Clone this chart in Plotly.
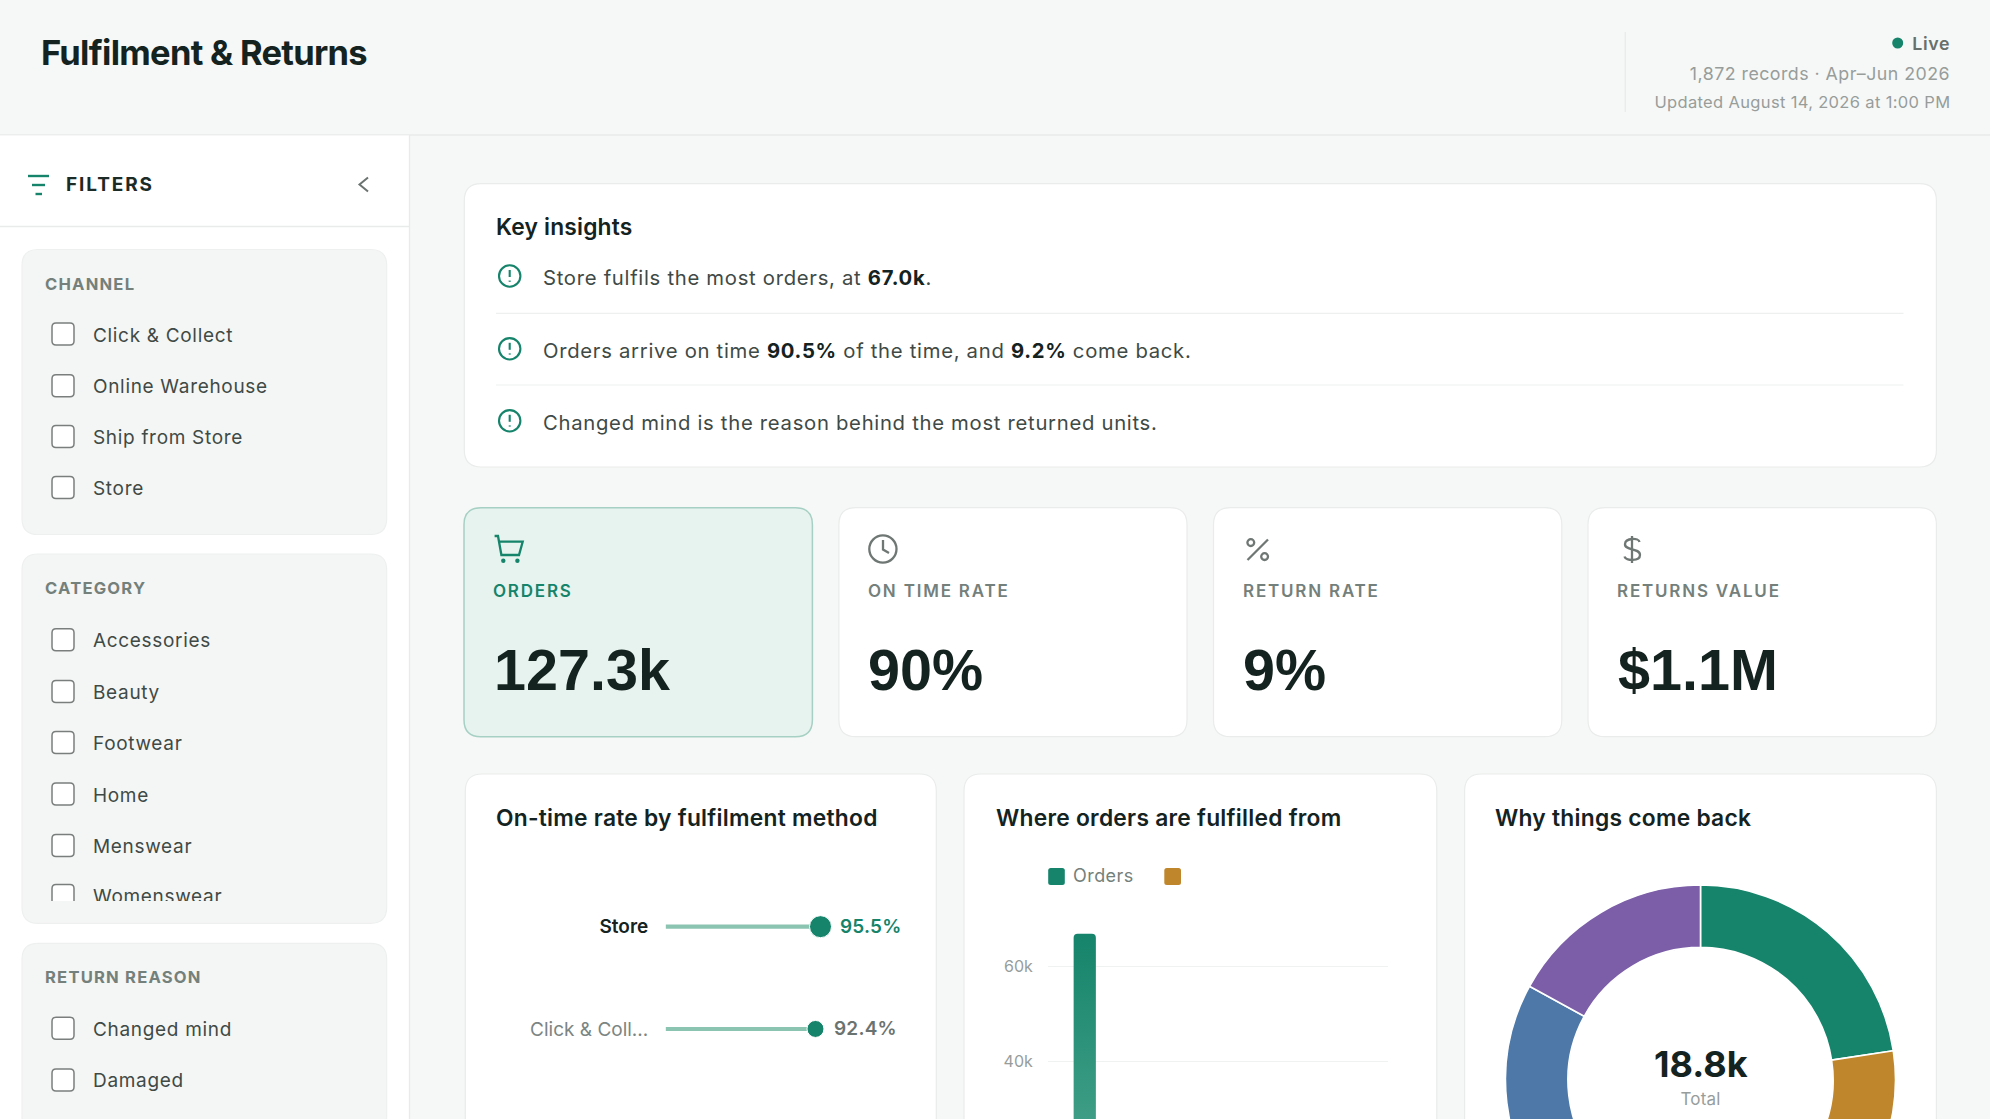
import json, re
import plotly.graph_objects as go

# ---------- data ----------
TITLE = "Fulfilment & Returns"
HEADER_LINES = ["1,872 records · Apr–Jun 2026", "Updated August 14, 2026 at 1:00 PM"]
CHANNEL_FILTERS = ["Click & Collect", "Online Warehouse", "Ship from Store", "Store"]
CATEGORY_FILTERS = ["Accessories", "Beauty", "Footwear", "Home", "Menswear"]
REASON_FILTERS = ["Changed mind", "Damaged"]
INSIGHT_LINES = [
    "Store fulfils the most orders, at [67.0k].",
    "Orders arrive on time [90.5%] of the time, and [9.2%] come back.",
    "Changed mind is the reason behind the most returned units.",
]
KPI_LABELS = ["ORDERS", "ON TIME RATE", "RETURN RATE", "RETURNS VALUE"]
KPI_VALUES = ["127.3k", "90%", "9%", "$1.1M"]

ONTIME_METHODS = ["Store", "Click & Coll..."]
ONTIME_RATES = [95.5, 92.4]

FULFIL_CATS = ["Store", "Ship from Store", "Online Warehouse", "Click & Collect"]
FULFIL_ORDERS = [67.0, 26.5, 20.4, 13.4]
FULFIL_OTHER = [6.1, 2.9, 2.4, 1.3]
FULFIL_TICKS = [40, 60]
FULFIL_TICK_TEXT = ["40k", "60k"]

REASONS = ["Changed mind", "Damaged", "Late delivery", "Wrong size", "Not as described"]
REASON_UNITS = [4.25, 3.9, 3.75, 3.7, 3.2]
REASON_TOTAL = "18.8k"

# ---------- palette ----------
GREEN = "#15846a"; GOLD = "#bf862c"; BLUE = "#4d78a8"; PURPLE = "#7b5ea7"; RED = "#b5574d"
INK = "#14231f"; BODY = "#3f4a46"; MUTED = "#74807b"; FAINT = "#979d9b"
BG = "#f6f8f7"; LINE = "#e8ebea"; PANEL = "#f4f6f5"
W, H = 1990, 1500
FONT = "Inter"

shapes, annos, spacing = [], [], {}

def rrect_path(x0, y0, x1, y1, r):
    return (f"M {x0+r} {y0} L {x1-r} {y0} Q {x1} {y0} {x1} {y0+r} L {x1} {y1-r} Q {x1} {y1} {x1-r} {y1} "
            f"L {x0+r} {y1} Q {x0} {y1} {x0} {y1-r} L {x0} {y0+r} Q {x0} {y0} {x0+r} {y0} Z")

def path(d, color=None, width=0, fill=None):
    s = dict(type="path", path=d, xref="x", yref="y", layer="below", line=dict(color=color or "rgba(0,0,0,0)", width=width))
    if fill: s["fillcolor"] = fill
    shapes.append(s)

def rect(x0, y0, x1, y1, fill, border=None, bw=1, r=0):
    if r:
        path(rrect_path(x0, y0, x1, y1, r), border, bw if border else 0, fill)
    else:
        shapes.append(dict(type="rect", x0=x0, x1=x1, y0=y0, y1=y1, xref="x", yref="y", layer="below",
                           fillcolor=fill, line=dict(width=0)))

def line(x0, y0, x1, y1, color, width=1):
    shapes.append(dict(type="line", x0=x0, x1=x1, y0=y0, y1=y1, xref="x", yref="y", layer="below",
                       line=dict(color=color, width=width)))

def circle(cx, cy, r, color=None, width=0, fill=None):
    s = dict(type="circle", x0=cx-r, x1=cx+r, y0=cy-r, y1=cy+r, xref="x", yref="y", layer="below",
             line=dict(color=color or "rgba(0,0,0,0)", width=width))
    if fill: s["fillcolor"] = fill
    shapes.append(s)

def text(x, y, s, size, color, weight=400, anchor="left", ls=0, family=FONT):
    annos.append(dict(x=x, y=y, xref="x", yref="y", text=s, showarrow=False, xanchor=anchor, yanchor="middle",
                      align=anchor, borderpad=0, borderwidth=0,
                      font=dict(family=family, size=size, color=color, weight=weight)))
    if ls:
        spacing[re.sub(r"<[^>]+>", "", s)] = ls

# page frame
rect(0, 0, W, H, BG)
line(0, 135, W, 135, LINE, 1.3)
rect(0, 135.6, 409, H, "#ffffff")
line(409.5, 135, 409.5, H, LINE, 1.3)
line(0, 226.5, 409, 226.5, LINE, 1.3)

# header
text(41, 52, TITLE, 34.5, INK, 700, ls=-0.72)
line(1625.3, 32, 1625.3, 112, LINE, 1.3)
circle(1897.7, 43, 5.5, fill=GREEN)
text(1949.5, 43.5, "Live", 17.8, "#66706c", 600, "right", ls=0.7)
text(1949.5, 73.3, HEADER_LINES[0], 17.8, FAINT, 400, "right", ls=0.47)
text(1949.5, 101.7, HEADER_LINES[1], 16.5, FAINT, 400, "right", ls=0.34)

# sidebar header
for y, a, b in [(176, 28, 49), (185, 32, 45), (194, 35.5, 42)]:
    line(a, y, b, y, GREEN, 2.4)
text(65.5, 184.6, "FILTERS", 19, "#1d2b27", 700, ls=1.9)
path("M 368 177.5 L 359.5 184.5 L 368 191.5", "#6b7370", 2)

# filter panels
rect(22, 249.5, 386.7, 534.5, PANEL, "#eef0ef", 1.2, 16)
rect(22, 554, 386.7, 923.3, PANEL, "#eef0ef", 1.2, 16)
rect(22, 943.3, 386.7, H - 40, PANEL, "#eef0ef", 1.2, 16)

def checkbox(y):
    rect(52, y-11, 74, y+11, "#ffffff", "#7a7f7d", 1.5, 4)

def filt(title, ty, items, rows):
    text(45, ty, title, 16.6, MUTED, 700, ls=1.2)
    for it, y in zip(items, rows):
        checkbox(y)
        text(93, y + 1, it, 19, BODY, 400, ls=0.68)

filt("CHANNEL", 284, CHANNEL_FILTERS, [334, 385.7, 436.6, 487.6])
filt("CATEGORY", 588, CATEGORY_FILTERS, [639.7, 691.4, 742.4, 794, 845.4])
filt("RETURN REASON", 977, REASON_FILTERS, [1028.2, 1079.9])
checkbox(1131)
# clipped row
path("M 52 901 L 52 888.5 Q 52 884.5 56 884.5 L 70 884.5 Q 74 884.5 74 888.5 L 74 901", "#7a7f7d", 1.5, "#ffffff")

# cards
rect(464.3, 183.7, 1936.4, 467, "#ffffff", "#e9ecea", 1.2, 17)
text(495.5, 226.8, "Key insights", 22.8, INK, 600, ls=0.18)
for y, s in zip([277.5, 350.3, 422.3], INSIGHT_LINES):
    cy = y - 1.5
    circle(509.7, cy, 10.7, GREEN, 2.1)
    line(509.7, cy-6, 509.7, cy+1, GREEN, 2.1)
    line(509.7, cy+4.6, 509.7, cy+5.8, GREEN, 2.1)
    rich = re.sub(r"\[([^\]]+)\]", lambda m: f'<b><span style="color:{INK}">{m.group(1)}</span></b>', s)
    text(543, y, rich, 20.3, BODY, 400, ls=0.7)
line(496, 313.3, 1903.5, 313.3, "#eef0ef", 1.2)
line(496, 385, 1903.5, 385, "#eef0ef", 1.2)

kpi_x = [(464, 812.4), (838.9, 1187), (1213.5, 1561.8), (1588, 1936.4)]
for i, ((x0, x1), lab, val) in enumerate(zip(kpi_x, KPI_LABELS, KPI_VALUES)):
    if i == 0:
        rect(x0, 507.7, x1, 736.7, "#e7f3ef", "#a6d0c3", 1.5, 17)
    else:
        rect(x0, 507.7, x1, 736.7, "#ffffff", "#e9ecea", 1.2, 17)
    tx = x0 + 29
    text(tx, 590.7, lab, 17, GREEN if i == 0 else MUTED, 600, ls=1.8)
    text(tx + 0.5, 669.5, val, 57.5, INK, 700, family="Liberation Sans")

IC = "#6f7774"
# cart
path("M 494.6 536 L 498 536 L 501.4 555 L 519 555 L 522.7 541.7 L 499 541.7", GREEN, 2.3)
circle(503.3, 560.7, 2.2, fill=GREEN)
circle(517.4, 560.7, 2.2, fill=GREEN)
# clock
circle(882.9, 549, 13.6, IC, 2.3)
path("M 883 540 L 883 549.5 L 889 553", IC, 2.3)
# percent
line(1268, 539.5, 1247.5, 560, IC, 2.3)
circle(1250.8, 542.6, 3.4, IC, 2.3)
circle(1264.6, 556.6, 3.4, IC, 2.3)
# dollar
line(1632, 536, 1632, 563, IC, 2.3)
path("M 1639.5 542 C 1639 537.8 1625.5 537.5 1625 544 C 1624.5 551 1640 547.5 1640 555 C 1640 561.5 1625.5 561 1624.5 556.5", IC, 2.3)

for x0, x1, tx, title in [(465.3, 936.3, 496, "On-time rate by fulfilment method"),
                          (964, 1436.8, 995.5, "Where orders are fulfilled from"),
                          (1464.6, 1936.4, 1495, "Why things come back")]:
    rect(x0, 774, x1, H - 40, "#ffffff", "#e9ecea", 1.2, 17)
    text(tx, 817.7, title, 22.8, INK, 600, ls=0.25)

# legend of the bar chart
rect(1048.2, 868, 1064.8, 885, GREEN, r=2.5)
text(1072.5, 875.5, "Orders", 18, MUTED, 400, ls=0.45)
rect(1164.3, 868, 1181, 885, GOLD, r=2.5)

# donut centre
text(1700.5, 1064, REASON_TOTAL, 36, INK, 700, "center")
text(1700.5, 1099, "Total", 17, FAINT, 400, "center", ls=0.2)

# value labels of the on-time rows, placed from the data
for i, v in enumerate(ONTIME_RATES):
    annos.append(dict(x=v, y=i, xref="x3", yref="y3", text=f"{v:.1f}%", showarrow=False, xanchor="left", yanchor="middle",
                      xshift=19, yshift=0, align="left", borderpad=0, borderwidth=0,
                      font=dict(family=FONT, size=19, color=GREEN if i == 0 else "#6b7370", weight=600)))
spacing.update({f"{v:.1f}%": 0.2 for v in ONTIME_RATES})

def ydom(top, bottom):
    return [1 - bottom / H, 1 - top / H]

fig = go.Figure()

# pixel frame carrying the page furniture
fig.add_trace(go.Scatter(x=[0], y=[0], mode="markers", marker=dict(opacity=0), showlegend=False, xaxis="x", yaxis="y"))

# clipped last category row
fig.add_trace(go.Scatter(x=[93], y=[898], text=["Womenswear"], mode="text", textposition="middle right",
                         textfont=dict(family=FONT, size=19, color=BODY), cliponaxis=True, showlegend=False,
                         xaxis="x2", yaxis="y2"))

# on-time rate dumbbells
pos = list(range(len(ONTIME_METHODS)))
fig.add_trace(go.Bar(x=ONTIME_RATES, y=pos, orientation="h", width=0.04, marker=dict(color="#8cc4b2", cornerradius=2),
                     showlegend=False, xaxis="x3", yaxis="y3"))
fig.add_trace(go.Scatter(x=ONTIME_RATES, y=pos, mode="markers",
                         marker=dict(color=GREEN, size=[22, 17], opacity=1), cliponaxis=False, showlegend=False,
                         xaxis="x3", yaxis="y3"))

# orders by fulfilment location
fig.add_trace(go.Bar(x=FULFIL_CATS, y=FULFIL_ORDERS, name="Orders", width=0.262, offset=-0.198,
                     marker=dict(color=GREEN, cornerradius=4), showlegend=False, xaxis="x4", yaxis="y4"))
fig.add_trace(go.Bar(x=FULFIL_CATS, y=FULFIL_OTHER, name="", width=0.262, offset=0.09,
                     marker=dict(color=GOLD, cornerradius=4), showlegend=False, xaxis="x4", yaxis="y4"))

# return reasons
fig.add_trace(go.Pie(labels=REASONS, values=REASON_UNITS, hole=0.68, sort=False, direction="clockwise", rotation=0,
                     marker=dict(colors=[GREEN, GOLD, RED, BLUE, PURPLE], line=dict(color="#ffffff", width=1.6)),
                     textinfo="none", showlegend=False,
                     domain=dict(x=[1505.5 / W, 1895.5 / W], y=ydom(885, 1275))))

hidden = dict(visible=False, fixedrange=True, automargin=False)
fig.update_layout(
    template="none",
    width=W, height=H, margin=dict(l=0, r=0, t=0, b=0, pad=0, autoexpand=False), paper_bgcolor=BG, plot_bgcolor="rgba(0,0,0,0)",
    hovermode=False, barmode="overlay", showlegend=False, shapes=shapes, annotations=annos,
    font=dict(family=FONT),
    xaxis=dict(hidden, range=[0, W], domain=[0, 1]),
    yaxis=dict(hidden, range=[H, 0], domain=[0, 1]),
    xaxis2=dict(hidden, range=[0, W], domain=[0, 1], anchor="y2"),
    yaxis2=dict(hidden, range=[901, 860], domain=ydom(860, 901), anchor="x2"),
    xaxis3=dict(hidden, range=[0, 100], domain=[665.6 / W, 827.8 / W], anchor="y3"),
    yaxis3=dict(range=[1.5, -0.5], domain=ydom(875.5, 1080.1), anchor="x3", tickvals=pos, automargin=False,
                ticktext=[f'<span style="color:{INK};font-weight:600">{ONTIME_METHODS[0]}</span>',
                          f'<span style="color:#7c8582">{ONTIME_METHODS[1]}</span>'],
                tickfont=dict(family=FONT, size=19), showgrid=False, zeroline=False, showline=False,
                ticks="outside", ticklen=12.5, tickcolor="rgba(0,0,0,0)", fixedrange=True),
    xaxis4=dict(domain=[1048 / W, 1387.5 / W], anchor="y4", type="category", categoryorder="array", categoryarray=FULFIL_CATS,
                showgrid=False, zeroline=False, showline=False, showticklabels=False, ticks="", fixedrange=True, automargin=False),
    yaxis4=dict(range=[0, 74], domain=ydom(900.7, 1249.6), anchor="x4", tickvals=FULFIL_TICKS, ticktext=FULFIL_TICK_TEXT,
                tickfont=dict(family=FONT, size=16, color=FAINT), gridcolor="#f0f2f1", gridwidth=1.2, zeroline=False,
                showline=False, ticks="outside", ticklen=11, tickcolor="rgba(0,0,0,0)", fixedrange=True, automargin=False),
)

POST = """
var d = document.documentElement; d.style.overflow = 'hidden'; d.style.margin = '0';
document.body.style.margin = '0'; document.body.style.overflow = 'hidden';
var SP = __SPACING__;
document.querySelectorAll('.annotation-text').forEach(function (t) {
  var s = SP[t.textContent];
  if (s) { t.style.letterSpacing = s + 'px'; }
});
document.querySelectorAll('.ytick text').forEach(function (t) {
  var c = t.textContent;
  if (c === 'Store') { t.style.letterSpacing = '0.35px'; }
  else if (c.length > 3) { t.style.letterSpacing = '0.55px'; }
});
document.querySelectorAll('.textpoint text').forEach(function (t) { t.style.letterSpacing = '0.68px'; });
var svg = document.querySelector('.main-svg');
var ns = 'http://www.w3.org/2000/svg';
var g = document.createElementNS(ns, 'linearGradient');
g.setAttribute('id', 'ordersFade'); g.setAttribute('x1', '0'); g.setAttribute('y1', '0'); g.setAttribute('x2', '0'); g.setAttribute('y2', '1');
[['0', '#15846a'], ['1', '#5aae98']].forEach(function (p) {
  var st = document.createElementNS(ns, 'stop'); st.setAttribute('offset', p[0]); st.setAttribute('stop-color', p[1]); g.appendChild(st);
});
svg.querySelector('defs').appendChild(g);
document.querySelectorAll('.bars .point path').forEach(function (p) {
  if (p.style.fill.indexOf('21, 132, 106') >= 0) { p.style.fill = 'url(#ordersFade)'; }
});
""".replace("__SPACING__", json.dumps(spacing))

fig.write_html("out.html", config=dict(displayModeBar=False, responsive=False), post_script=POST)
